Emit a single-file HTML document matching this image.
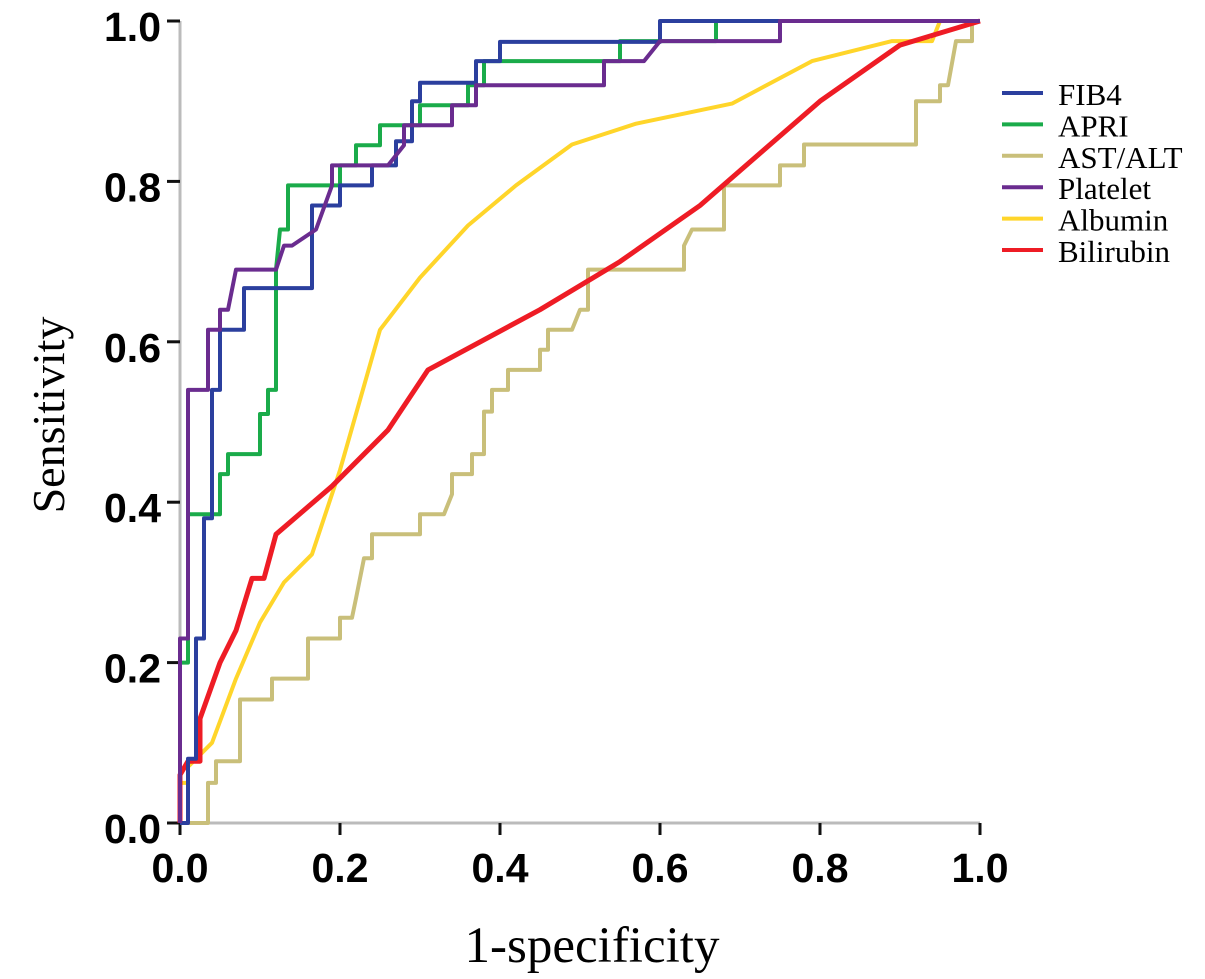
<!DOCTYPE html>
<html><head><meta charset="utf-8"><style>
body{margin:0;background:#fff;}
svg{display:block;}
</style></head><body>
<svg id="chart" width="1205" height="979" viewBox="0 0 1205 979" xmlns="http://www.w3.org/2000/svg"></svg>
<script>
const seriesNames=["FIB4","APRI","AST/ALT","Platelet","Albumin","Bilirubin"];
const seriesColors=["#2b3f9e","#1aab4a","#c9bf7a","#6a2c8f","#ffd52a","#ee1c25"];
const ticks=[0,0.2,0.4,0.6,0.8,1.0];
const tickLabels=["0.0","0.2","0.4","0.6","0.8","1.0"];
const fib4=[[0,0],[0.01,0],[0.01,0.08],[0.02,0.08],[0.02,0.23],[0.03,0.23],[0.03,0.38],[0.04,0.38],[0.04,0.54],[0.05,0.54],[0.05,0.615],[0.08,0.615],[0.08,0.667],[0.165,0.667],[0.165,0.77],[0.2,0.77],[0.2,0.795],[0.24,0.795],[0.24,0.82],[0.27,0.82],[0.27,0.85],[0.29,0.85],[0.29,0.9],[0.3,0.9],[0.3,0.923],[0.37,0.923],[0.37,0.95],[0.4,0.95],[0.4,0.974],[0.6,0.974],[0.6,1],[1,1]];
const apri=[[0,0],[0,0.2],[0.01,0.2],[0.01,0.385],[0.05,0.385],[0.05,0.435],[0.06,0.435],[0.06,0.46],[0.1,0.46],[0.1,0.51],[0.11,0.51],[0.11,0.54],[0.12,0.54],[0.12,0.69],[0.125,0.74],[0.135,0.74],[0.135,0.795],[0.2,0.795],[0.2,0.82],[0.22,0.82],[0.22,0.845],[0.25,0.845],[0.25,0.87],[0.3,0.87],[0.3,0.895],[0.36,0.895],[0.36,0.92],[0.38,0.92],[0.38,0.95],[0.55,0.95],[0.55,0.975],[0.67,0.975],[0.67,1],[1,1]];
const astalt=[[0,0],[0.035,0],[0.035,0.05],[0.045,0.05],[0.045,0.077],[0.075,0.077],[0.075,0.154],[0.115,0.154],[0.115,0.18],[0.16,0.18],[0.16,0.23],[0.2,0.23],[0.2,0.256],[0.215,0.256],[0.22,0.28],[0.23,0.33],[0.24,0.33],[0.24,0.36],[0.3,0.36],[0.3,0.385],[0.33,0.385],[0.34,0.41],[0.34,0.435],[0.365,0.435],[0.365,0.46],[0.38,0.46],[0.38,0.513],[0.39,0.513],[0.39,0.54],[0.41,0.54],[0.41,0.565],[0.45,0.565],[0.45,0.59],[0.46,0.59],[0.46,0.615],[0.49,0.615],[0.5,0.64],[0.51,0.64],[0.51,0.69],[0.63,0.69],[0.63,0.72],[0.64,0.74],[0.68,0.74],[0.68,0.795],[0.75,0.795],[0.75,0.82],[0.78,0.82],[0.78,0.846],[0.92,0.846],[0.92,0.9],[0.95,0.9],[0.95,0.92],[0.96,0.92],[0.97,0.975],[0.99,0.975],[0.99,1],[1,1]];
const platelet=[[0,0],[0,0.23],[0.01,0.23],[0.01,0.54],[0.035,0.54],[0.035,0.615],[0.05,0.615],[0.05,0.64],[0.06,0.64],[0.07,0.69],[0.12,0.69],[0.13,0.72],[0.14,0.72],[0.17,0.74],[0.19,0.795],[0.19,0.82],[0.26,0.82],[0.28,0.845],[0.28,0.87],[0.34,0.87],[0.34,0.895],[0.37,0.895],[0.37,0.92],[0.53,0.92],[0.53,0.95],[0.58,0.95],[0.6,0.975],[0.75,0.975],[0.75,1],[1,1]];
const albumin=[[0,0],[0,0.05],[0.01,0.05],[0.01,0.07],[0.03,0.09],[0.04,0.1],[0.07,0.18],[0.1,0.25],[0.13,0.3],[0.165,0.335],[0.2,0.44],[0.25,0.615],[0.3,0.68],[0.36,0.745],[0.42,0.795],[0.49,0.846],[0.57,0.872],[0.69,0.897],[0.79,0.95],[0.89,0.975],[0.94,0.975],[0.95,1],[1,1]];
const bilirubin=[[0,0],[0,0.06],[0.01,0.077],[0.025,0.077],[0.025,0.13],[0.05,0.2],[0.07,0.24],[0.09,0.305],[0.105,0.305],[0.12,0.36],[0.19,0.42],[0.26,0.49],[0.31,0.565],[0.45,0.64],[0.55,0.7],[0.65,0.77],[0.8,0.9],[0.9,0.97],[1,1]];
const seriesData=[fib4,apri,astalt,platelet,albumin,bilirubin];
const drawOrder=[2,4,5,1,0,3];

const NS="http://www.w3.org/2000/svg";
const svg=document.getElementById('chart');
const X0=180,X1=980,Y0=823,Y1=21;
const sx=v=>X0+(X1-X0)*v;
const sy=v=>Y0-(Y0-Y1)*v;
function mk(tag,attrs){const e=document.createElementNS(NS,tag);for(const k in attrs)e.setAttribute(k,attrs[k]);svg.appendChild(e);return e;}

let ax=mk('line',{x1:X0,y1:Y1,x2:X0,y2:Y0,stroke:'#bbb','stroke-width':3});


let axx=mk('line',{x1:X0,y1:Y0,x2:X1,y2:Y0,stroke:'#bbb','stroke-width':3});



ticks.forEach((t,i)=>{
  let a=mk('line',{x1:X0-13,y1:sy(t),x2:X0,y2:sy(t),stroke:'#111','stroke-width':3});
  
  
  let tl=mk('text',{x:X0-19,y:sy(t)+20,'text-anchor':'end','font-family':'Liberation Sans, sans-serif','font-weight':'bold','font-size':41});
  tl.textContent=tickLabels[i];
  
  
  let b=mk('line',{x1:sx(t),y1:Y0,x2:sx(t),y2:Y0+12,stroke:'#111','stroke-width':3});
  
  
  let xl=mk('text',{x:sx(t),y:Y0+59,'text-anchor':'middle','font-family':'Liberation Sans, sans-serif','font-weight':'bold','font-size':41});
  xl.textContent=tickLabels[i];
  
  
});

drawOrder.forEach(i=>{
  const d=seriesData[i].map((p,j)=>(j?'L':'M')+sx(p[0]).toFixed(1)+','+sy(p[1]).toFixed(1)).join(' ');
  let p=mk('path',{d:d,fill:'none',stroke:seriesColors[i],'stroke-width':i===5?5:4,'stroke-linejoin':'round'});
  
  
});

seriesNames.forEach((n,i)=>{
  const y=93+i*31.4;
  let l=mk('line',{x1:1002,y1:y,x2:1043,y2:y,stroke:seriesColors[i],'stroke-width':4});
  
  
  let t=mk('text',{x:1058,y:y+12,'font-family':'Liberation Serif, serif','font-size':31});
  t.textContent=n;
  
  
});

let yt=mk('text',{x:0,y:0,transform:'translate(64,415) rotate(-90)','text-anchor':'middle','font-family':'Liberation Serif, serif','font-size':46});
yt.textContent='Sensitivity';


let xt=mk('text',{x:592,y:962,'text-anchor':'middle','font-family':'Liberation Serif, serif','font-size':51});
xt.textContent='1-specificity';


</script>
</body></html>
